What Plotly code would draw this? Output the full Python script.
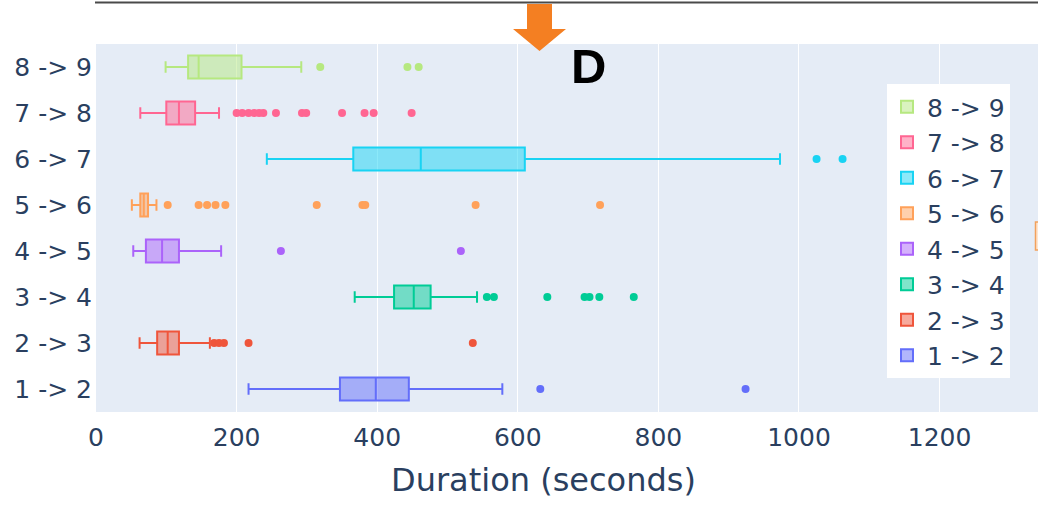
import plotly.graph_objects as go

# ---------------- data ----------------
categories = ["1 -> 2", "2 -> 3", "3 -> 4", "4 -> 5", "5 -> 6", "6 -> 7", "7 -> 8", "8 -> 9"]
colors = ["#636efa", "#EF553B", "#00cc96", "#ab63fa", "#FFA15A", "#19d3f3", "#FF6692", "#B6E880"]

lower_fence = [217, 62, 368, 53, 51, 243, 63, 99]
q1_values = [347, 87, 424, 71, 63, 366, 100, 131]
medians = [398, 102, 452, 94, 68, 462, 118, 146]
q3_values = [445, 118, 476, 118, 74, 610, 141, 207]
upper_fence = [578, 162, 542, 178, 86, 973, 175, 292]

outliers = [
    [632, 924],
    [168, 175, 182, 217, 536],
    [556, 566, 642, 695, 702, 716, 765],
    [263, 519],
    [102, 146, 158, 170, 184, 314, 379, 383, 540, 717],
    [1025, 1062],
    [200, 208, 217, 225, 232, 238, 256, 293, 299, 350, 382, 395, 449],
    [319, 443, 459],
]

x_ticks = [0, 200, 400, 600, 800, 1000, 1200]

# ---------------- layout helpers ----------------
W, H = 1038, 506
ML, MR, MT, MB = 96, 0, 44, 94
PW, PH = W - ML - MR, H - MT - MB
FONT = "DejaVu Sans"


def px2x(px):
    return (px - ML) / PW


def py2y(py):
    return 1 - (py - MT) / PH


fig = go.Figure()
for i, cat in enumerate(categories):
    fig.add_trace(go.Box(
        name=cat,
        y=[cat],
        x=[outliers[i]],
        q1=[q1_values[i]],
        median=[medians[i]],
        q3=[q3_values[i]],
        lowerfence=[lower_fence[i]],
        upperfence=[upper_fence[i]],
        orientation="h",
        boxpoints="outliers",
        width=0.5,
        line=dict(color=colors[i], width=2),
        marker=dict(color=colors[i], size=8),
    ))

# orange arrow (pixel outline converted to paper coords)
arrow_px = [(527, 4), (552, 4), (552, 29), (566, 29), (539.5, 51), (513, 29), (527, 29)]
path = "M " + " L ".join(f"{px2x(x):.5f},{py2y(y):.5f}" for x, y in arrow_px) + " Z"

shapes = [
    dict(type="line", xref="paper", yref="paper",
         x0=px2x(95), x1=px2x(1040), y0=py2y(2.5), y1=py2y(2.5),
         line=dict(color="#4a4a4a", width=2)),
    dict(type="path", xref="paper", yref="paper", path=path,
         fillcolor="#F47F22", line=dict(width=0)),
    dict(type="rect", xref="paper", yref="paper",
         x0=px2x(1035.5), x1=px2x(1042), y0=py2y(250), y1=py2y(222),
         fillcolor="#FFE6CF", line=dict(color="#F2A15C", width=1.5)),
]

annotations = [
    dict(text="<b>D</b>", xref="paper", yref="paper",
         x=px2x(588), y=py2y(66), xanchor="center", yanchor="middle",
         showarrow=False, font=dict(family="Liberation Sans, Arial", size=49, color="black")),
    dict(text="Duration (seconds)", xref="paper", yref="paper",
         x=px2x(543), y=py2y(480), xanchor="center", yanchor="middle",
         showarrow=False, font=dict(family=FONT, size=32, color="#2a3f5f")),
]

fig.update_layout(
    width=W, height=H,
    autosize=False,
    margin=dict(l=ML, r=MR, t=MT, b=MB, pad=0),
    paper_bgcolor="white",
    plot_bgcolor="#E5ECF6",
    font=dict(family=FONT, color="#2a3f5f"),
    boxmode="overlay",
    showlegend=True,
    legend=dict(
        x=px2x(887), y=py2y(84), xanchor="left", yanchor="top",
        bgcolor="white", traceorder="reversed",
        font=dict(family=FONT, size=25, color="#2a3f5f"),
        tracegroupgap=0,
    ),
    xaxis=dict(
        range=[0, 1340], tickvals=x_ticks, showgrid=True, gridcolor="white",
        gridwidth=1, zeroline=False, showline=False,
        tickfont=dict(family=FONT, size=25, color="#2a3f5f"),
        ticklabelstandoff=8,
    ),
    yaxis=dict(
        type="category", categoryorder="array", categoryarray=categories,
        range=[-0.5, 7.5], showgrid=False, zeroline=False,
        tickfont=dict(family=FONT, size=25, color="#2a3f5f"), ticklabelstandoff=3,
    ),
    shapes=shapes,
    annotations=annotations,
)

fig.write_html(
    "out.html",
    config={"responsive": False, "displayModeBar": False},
    post_script=(
        "document.body.style.margin='0';"
        "document.body.style.overflow='hidden';"
    ),
)
